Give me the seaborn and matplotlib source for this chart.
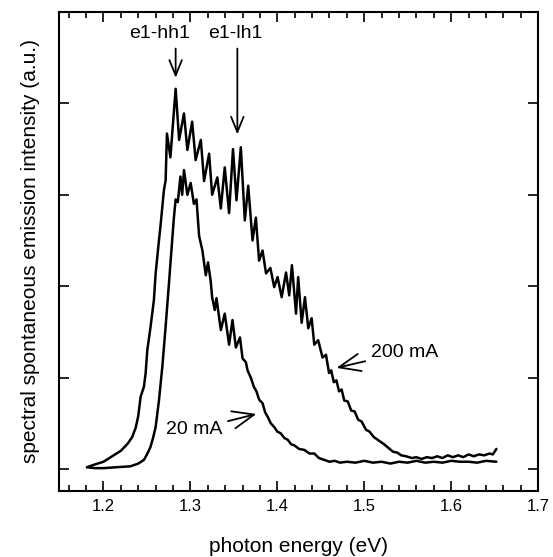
import numpy as np
import pandas as pd
import seaborn as sns
import matplotlib
matplotlib.use("Agg")
import matplotlib.pyplot as plt
from matplotlib.ticker import MultipleLocator, NullFormatter

# photon energy (eV) and intensity (a.u.)
energy_200 = [1.181, 1.190, 1.200, 1.210, 1.220, 1.228, 1.233, 1.237, 1.240, 1.2427,
              1.2465, 1.2485, 1.2504, 1.2542, 1.258, 1.260, 1.2638, 1.266, 1.2695, 1.2715,
              1.273, 1.277, 1.283, 1.287, 1.2926, 1.2965, 1.302, 1.306, 1.312, 1.3157,
              1.3215, 1.325, 1.331, 1.335, 1.3395, 1.3445, 1.349, 1.353, 1.358, 1.3626,
              1.3665, 1.3715, 1.3753, 1.379, 1.383, 1.387, 1.392, 1.3964, 1.4003, 1.405,
              1.41, 1.4137, 1.4168, 1.4215, 1.424, 1.428, 1.4318, 1.4356, 1.4395, 1.4425,
              1.447, 1.452, 1.456, 1.4595, 1.462, 1.465, 1.468, 1.471, 1.474, 1.477,
              1.481, 1.485, 1.489, 1.493, 1.497, 1.502, 1.506, 1.511, 1.517, 1.523,
              1.528, 1.533, 1.538, 1.5425, 1.548, 1.555, 1.56, 1.566, 1.572, 1.578,
              1.584, 1.59, 1.596, 1.602, 1.608, 1.614, 1.62, 1.626, 1.632, 1.638,
              1.644, 1.648, 1.652]
intensity_200 = [0.02, 0.05, 0.08, 0.14, 0.20, 0.28, 0.35, 0.45, 0.58, 0.79,
                 0.90, 1.05, 1.30, 1.56, 1.85, 2.14, 2.50, 2.70, 3.05, 3.16,
                 3.67, 3.41, 4.16, 3.60, 3.89, 3.49, 3.80, 3.38, 3.60, 3.15,
                 3.45, 3.00, 3.19, 2.85, 3.30, 2.80, 3.50, 2.94, 3.52, 2.72,
                 3.10, 2.50, 2.75, 2.28, 2.39, 2.14, 2.20, 1.99, 2.10, 1.88,
                 2.15, 1.90, 2.23, 1.70, 2.10, 1.60, 1.88, 1.54, 1.65, 1.36,
                 1.41, 1.22, 1.25, 1.05, 1.08, 0.95, 0.97, 0.85, 0.87, 0.75,
                 0.74, 0.64, 0.63, 0.54, 0.52, 0.43, 0.41, 0.35, 0.31, 0.27,
                 0.23, 0.19, 0.18, 0.15, 0.14, 0.12, 0.13, 0.11, 0.13, 0.12,
                 0.14, 0.12, 0.15, 0.13, 0.15, 0.13, 0.16, 0.14, 0.16, 0.15,
                 0.17, 0.16, 0.22]

energy_20 = [1.181, 1.190, 1.200, 1.215, 1.231, 1.240, 1.2465, 1.250, 1.254, 1.257,
             1.260, 1.2638, 1.2677, 1.2715, 1.2753, 1.279, 1.281, 1.283, 1.2855, 1.2885,
             1.2905, 1.2926, 1.2965, 1.3003, 1.304, 1.307, 1.310, 1.3138, 1.3177, 1.3203,
             1.3234, 1.325, 1.328, 1.330, 1.335, 1.3395, 1.3445, 1.3484, 1.3523, 1.357,
             1.360, 1.3638, 1.3657, 1.3695, 1.373, 1.376, 1.379, 1.383, 1.386, 1.389,
             1.3925, 1.3964, 1.400, 1.404, 1.408, 1.412, 1.416, 1.4195, 1.425, 1.431,
             1.437, 1.4425, 1.448, 1.454, 1.460, 1.466, 1.472, 1.480, 1.490, 1.500,
             1.510, 1.520, 1.530, 1.540, 1.550, 1.560, 1.570, 1.580, 1.590, 1.600,
             1.610, 1.620, 1.630, 1.640, 1.652]
intensity_20 = [0.02, 0.01, 0.01, 0.02, 0.03, 0.06, 0.10, 0.16, 0.24, 0.34,
                0.46, 0.75, 1.12, 1.56, 2.03, 2.50, 2.75, 2.95, 2.92, 3.20,
                3.00, 3.27, 3.00, 3.13, 2.90, 2.95, 2.55, 2.39, 2.12, 2.26,
                2.05, 1.88, 1.74, 1.87, 1.52, 1.70, 1.36, 1.63, 1.33, 1.44,
                1.21, 1.17, 1.08, 1.00, 0.90, 0.85, 0.76, 0.72, 0.62, 0.57,
                0.50, 0.46, 0.41, 0.39, 0.34, 0.32, 0.27, 0.26, 0.22, 0.21,
                0.17, 0.17, 0.12, 0.10, 0.08, 0.09, 0.07, 0.08, 0.07, 0.09,
                0.07, 0.08, 0.06, 0.08, 0.07, 0.09, 0.07, 0.08, 0.07, 0.09,
                0.08, 0.08, 0.07, 0.09, 0.08]

peak_labels = ["e1-hh1", "e1-lh1"]
peak_energy = [1.283, 1.354]
peak_tip = [4.25, 3.63]
peak_tail = [4.63, 4.63]
peak_label_x = [1.265, 1.352]

df = pd.concat([
    pd.DataFrame({"energy": energy_200, "intensity": intensity_200, "current": "200 mA"}),
    pd.DataFrame({"energy": energy_20, "intensity": intensity_20, "current": "20 mA"}),
])

sns.set_style("ticks")
plt.rcParams["font.family"] = ["Liberation Sans", "DejaVu Sans"]
plt.rcParams["text.color"] = "black"
plt.rcParams["axes.labelcolor"] = "black"

fig = plt.figure(figsize=(5.53, 5.57), dpi=100)
ax = fig.add_axes([0.107, 0.1185, 0.866, 0.86])

sns.lineplot(data=df, x="energy", y="intensity", units="current", estimator=None,
             sort=False, color="black", linewidth=1.8, ax=ax, legend=False)

ax.set_xlim(1.149, 1.7)
ax.set_ylim(-0.24, 5.0)
ax.xaxis.set_major_locator(MultipleLocator(0.1))
ax.xaxis.set_minor_locator(MultipleLocator(0.02))
ax.yaxis.set_major_locator(MultipleLocator(1))
ax.yaxis.set_major_formatter(NullFormatter())
ax.tick_params(axis="both", which="both", direction="in", top=True, right=True,
               colors="black", width=1.2)
ax.tick_params(axis="both", which="major", length=7, labelsize=12, pad=6)
ax.tick_params(axis="x", which="minor", length=4)
ax.xaxis.set_major_formatter(matplotlib.ticker.FuncFormatter(lambda v, p: f"{v:.1f}"))
for s in ax.spines.values():
    s.set_linewidth(1.5)
    s.set_color("black")

ax.set_xlabel("photon energy (eV)", fontsize=15, labelpad=16)
ax.set_ylabel("spectral spontaneous emission intensity (a.u.)", fontsize=15, labelpad=8)

arrow = dict(arrowstyle="->,head_length=1.1,head_width=0.45", color="black", lw=1.3)
for lab, e, tip, tail, lx in zip(peak_labels, peak_energy, peak_tip, peak_tail, peak_label_x):
    ax.annotate("", xy=(e, tip), xytext=(e, tail), arrowprops=arrow)
    ax.text(lx, 4.76, lab, fontsize=14, ha="center", va="center")

ax.annotate("200 mA", xy=(1.465, 1.10), xytext=(1.508, 1.28), fontsize=14,
            va="center", ha="left", arrowprops=arrow)
ax.annotate("20 mA", xy=(1.379, 0.61), xytext=(1.2715, 0.43), fontsize=14,
            va="center", ha="left", arrowprops=arrow)

fig.savefig("out.png", dpi=100)
